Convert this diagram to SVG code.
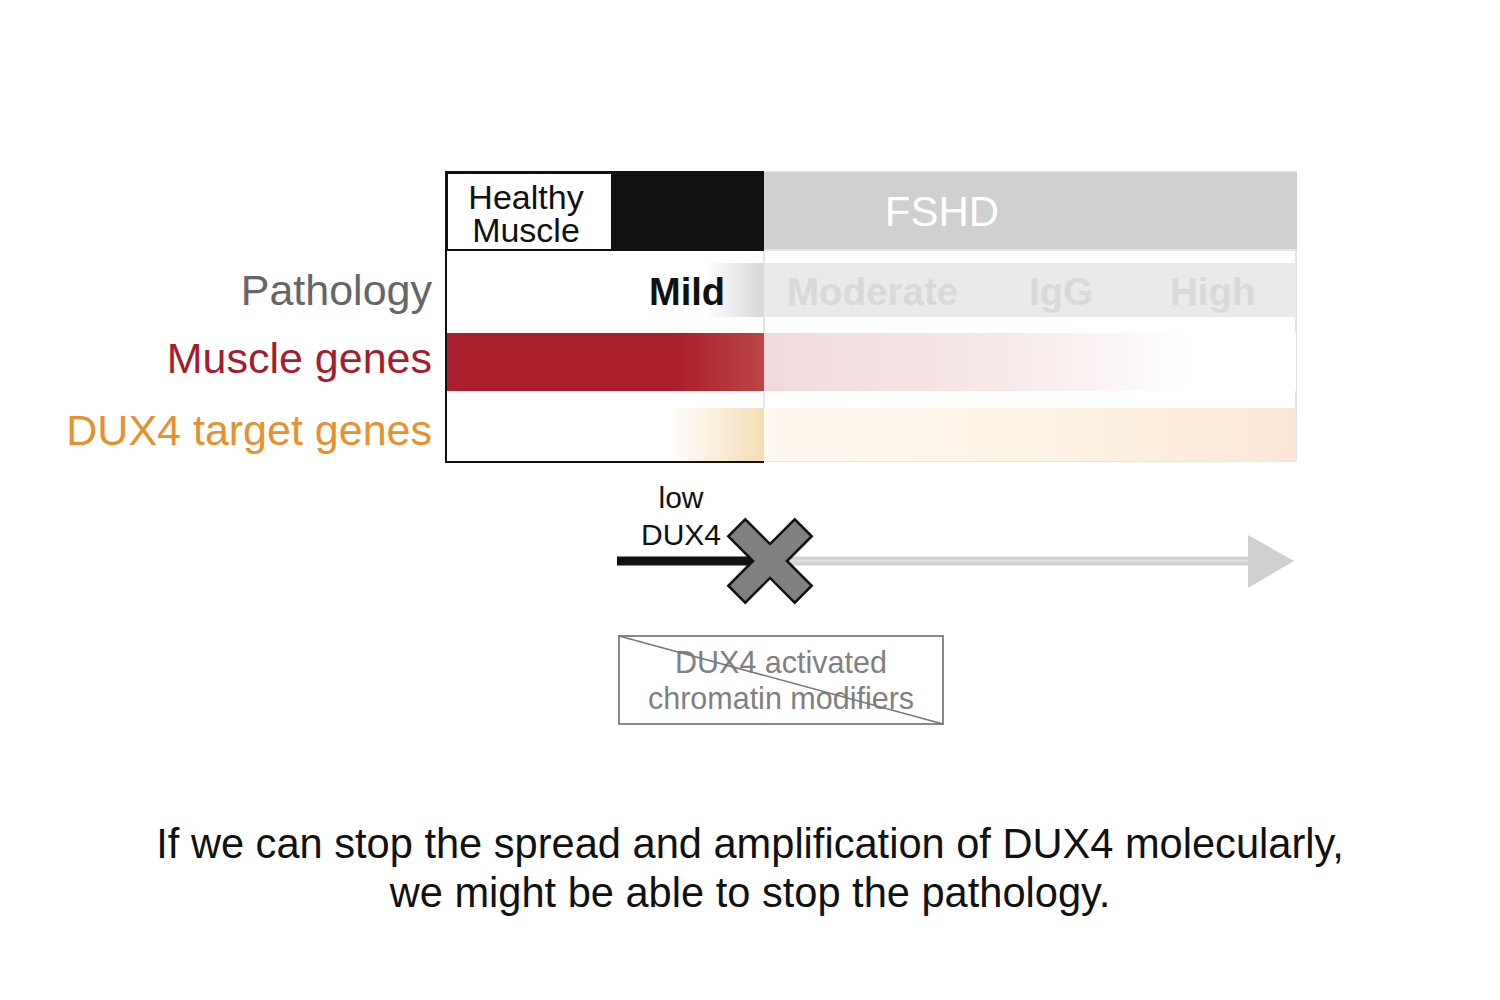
<svg xmlns="http://www.w3.org/2000/svg" width="1500" height="1000" viewBox="0 0 1500 1000">
<defs>
<style>
text{font-family:"Liberation Sans",Arial,sans-serif}
.lbl{font-size:43px;text-anchor:end}
.faint{font-size:38.5px;font-weight:bold;fill:#d9d9d9}
.cap{font-size:41.6px;fill:#111;text-anchor:middle}
</style>
<linearGradient id="mildG" x1="0" x2="1" y1="0" y2="0">
<stop offset="0" stop-color="#ffffff"/><stop offset="1" stop-color="#d6d6d6"/>
</linearGradient>
<linearGradient id="redL" x1="0" x2="1" y1="0" y2="0">
<stop offset="0" stop-color="#a91e2c"/><stop offset="0.72" stop-color="#a91e2c"/><stop offset="1" stop-color="#bb4646"/>
</linearGradient>
<linearGradient id="redR" x1="0" x2="1" y1="0" y2="0">
<stop offset="0" stop-color="#f1d9db"/><stop offset="0.45" stop-color="#f7e8e8"/><stop offset="0.8" stop-color="#ffffff"/><stop offset="1" stop-color="#ffffff"/>
</linearGradient>
<linearGradient id="orL" x1="0" x2="1" y1="0" y2="0">
<stop offset="0" stop-color="#ffffff"/><stop offset="0.7" stop-color="#ffffff"/><stop offset="1" stop-color="#f5dcb5"/>
</linearGradient>
<linearGradient id="orR" x1="0" x2="1" y1="0" y2="0">
<stop offset="0" stop-color="#fdf8f0"/><stop offset="0.5" stop-color="#fdf3e4"/><stop offset="1" stop-color="#fbe6d6"/>
</linearGradient>
</defs>

<g id="chart">
<rect x="764" y="172" width="532" height="289" fill="none" stroke="#e6e6e6" stroke-width="2"/>
<rect x="764" y="172" width="533" height="78" fill="#d0d0d0"/>
<text x="942" y="226" font-size="42" fill="#ffffff" text-anchor="middle">FSHD</text>
<rect x="612" y="172" width="152" height="78" fill="#111111"/>
<rect x="447" y="173" width="165" height="77" fill="#ffffff" stroke="#111" stroke-width="2"/>
<text x="526" y="209" font-size="34" fill="#111" text-anchor="middle">Healthy</text>
<text x="526" y="242" font-size="34" fill="#111" text-anchor="middle">Muscle</text>

<rect x="705" y="263" width="59" height="54" fill="url(#mildG)"/>
<rect x="764" y="263" width="532" height="54" fill="#e9e9e9"/>
<text x="725" y="305" font-size="38" font-weight="bold" fill="#111" text-anchor="end">Mild</text>
<text x="787" y="305" class="faint">Moderate</text>
<text x="1029" y="305" class="faint">IgG</text>
<text x="1170" y="305" class="faint">High</text>

<rect x="447" y="333" width="317" height="58" fill="url(#redL)"/>
<rect x="764" y="333" width="532" height="58" fill="url(#redR)"/>

<rect x="447" y="408" width="317" height="53" fill="url(#orL)"/>
<rect x="764" y="408" width="532" height="53" fill="url(#orR)"/>

<path d="M764,172 H446 V462 H764" fill="none" stroke="#111" stroke-width="2"/>
<line x1="446" y1="250" x2="764" y2="250" stroke="#111" stroke-width="2"/>
<line x1="764" y1="250" x2="1296" y2="250" stroke="#e8e8e8" stroke-width="2"/>
</g>

<g id="labels">
<text x="432" y="305" class="lbl" fill="#666666">Pathology</text>
<text x="432" y="373" class="lbl" fill="#a51d2d">Muscle genes</text>
<text x="432" y="445" class="lbl" fill="#e8902e">DUX4 target genes</text>
</g>

<g id="connectors">
<line x1="1250" y1="561" x2="757" y2="561" stroke="#d0d0d0" stroke-width="9"/>
<line x1="1250" y1="561" x2="757" y2="561" stroke="#dcdcdc" stroke-width="3"/>
<polygon points="1248,535 1294,561 1248,588" fill="#d0d0d0"/>
<line x1="617" y1="561" x2="757" y2="561" stroke="#111" stroke-width="9"/>
</g>

<g id="dux4-label">
<text x="681" y="508" font-size="30" fill="#111" text-anchor="middle">low</text>
<text x="681" y="545" font-size="30" fill="#111" text-anchor="middle">DUX4</text>
</g>

<g id="cross" transform="translate(770,561) rotate(45)">
<polygon points="12,-47 12,-12 47,-12 47,12 12,12 12,47 -12,47 -12,12 -47,12 -47,-12 -12,-12 -12,-47" fill="#808080" stroke="#111" stroke-width="2.5" stroke-linejoin="miter"/>
</g>

<g id="modifiers">
<rect x="619" y="636" width="324" height="88" fill="#ffffff" stroke="#888" stroke-width="2"/>
<text x="781" y="673" font-size="30.5" fill="#808080" text-anchor="middle">DUX4 activated</text>
<text x="781" y="709" font-size="30.5" fill="#808080" text-anchor="middle">chromatin modifiers</text>
<line x1="619" y1="636" x2="943" y2="724" stroke="#777" stroke-width="1.5"/>
</g>

<g id="caption">
<text x="750" y="858" class="cap">If we can stop the spread and amplification of DUX4 molecularly,</text>
<text x="750" y="907" class="cap">we might be able to stop the pathology.</text>
</g>
</svg>
